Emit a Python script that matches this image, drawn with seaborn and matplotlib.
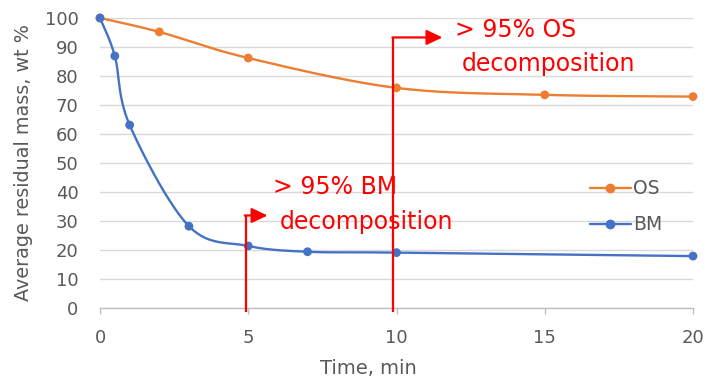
import numpy as np
import pandas as pd
import matplotlib
matplotlib.use("Agg")
import matplotlib.pyplot as plt
from matplotlib.lines import Line2D
import seaborn as sns

# ---- data ----
os_time = [0, 2, 5, 10, 15, 20]
os_mass = [100, 95.2, 86.2, 75.9, 73.5, 72.9]
bm_time = [0, 0.5, 1, 3, 5, 7, 10, 20]
bm_mass = [100, 86.9, 63.1, 28.2, 21.4, 19.4, 19.1, 17.9]
x_ticks = [0, 5, 10, 15, 20]
y_ticks = list(range(0, 101, 10))
series_names = ["OS", "BM"]
series_colors = ["#ED7D31", "#4472C4"]


def smooth(xs, ys, n=40):
    """Excel-style smoothed line (Catmull-Rom as cubic Bezier)."""
    p = np.column_stack([xs, ys]).astype(float)
    out = []
    for i in range(len(p) - 1):
        p0 = p[i - 1] if i > 0 else p[i]
        p1 = p[i]
        p2 = p[i + 1]
        p3 = p[i + 2] if i + 2 < len(p) else p[i + 1]
        c1 = p1 + (p2 - p0) / 6.0
        c2 = p2 - (p3 - p1) / 6.0
        t = np.linspace(0, 1, n)[:, None]
        seg = ((1 - t) ** 3) * p1 + 3 * ((1 - t) ** 2) * t * c1 + 3 * (1 - t) * t ** 2 * c2 + t ** 3 * p2
        out.append(seg if i == 0 else seg[1:])
    s = np.vstack(out)
    return s[:, 0], s[:, 1]


sns.set_theme(style="white")
plt.rcParams["font.family"] = ["DejaVu Sans"]

fig = plt.figure(figsize=(7.09, 3.82), dpi=100)
ax = fig.add_axes([100 / 709, 1 - 308 / 382, 593 / 709, 290 / 382])

for name, xs, ys, col in [("OS", os_time, os_mass, series_colors[0]),
                          ("BM", bm_time, bm_mass, series_colors[1])]:
    sx, sy = smooth(xs, ys)
    df_s = pd.DataFrame({"t": sx, "m": sy})
    sns.lineplot(data=df_s, x="t", y="m", sort=False, color=col, lw=1.7, ax=ax,
                 clip_on=False, zorder=3)
    df_p = pd.DataFrame({"t": xs, "m": ys})
    sns.scatterplot(data=df_p, x="t", y="m", color=col, s=40, edgecolor="none",
                    ax=ax, clip_on=False, zorder=4)

ax.set_xlim(0, 20)
ax.set_ylim(0, 100)
ax.set_xticks(x_ticks)
ax.set_yticks(y_ticks)
ax.yaxis.grid(True, color="#D9D9D9", lw=1)
ax.xaxis.grid(False)
for s in ["left", "right", "top"]:
    ax.spines[s].set_visible(False)
ax.spines["bottom"].set_color("#BFBFBF")
ax.spines["bottom"].set_linewidth(1)
ax.tick_params(axis="x", length=4, width=1, color="#BFBFBF", pad=11,
               labelsize=13, labelcolor="#595959", bottom=True)
ax.tick_params(axis="y", length=0, pad=15.5, labelsize=13, labelcolor="#595959")
ax.set_xlabel("Time, min", fontsize=14, color="#595959")
ax.set_ylabel("Average residual mass, wt %", fontsize=13.8, color="#595959")
ax.xaxis.set_label_coords(0.452, -0.175)
ax.yaxis.set_label_coords(-0.113, 0.503)

# ---- red annotations ----
red = "#FF0000"
for xv, ytop, xtip in [(4.91, 31.9, 5.65), (9.89, 93.3, 11.55)]:
    ax.plot([xv, xv], [-1.5, ytop], color=red, lw=1.6, clip_on=False, zorder=5,
            solid_capstyle="butt")
    ax.annotate("", xy=(xtip, ytop), xytext=(xv - 0.03, ytop),
                arrowprops=dict(arrowstyle="-|>,head_length=0.8,head_width=0.38",
                                color=red, lw=1.6, shrinkA=0, shrinkB=0),
                zorder=5, annotation_clip=False)

ax.text(5.84, 41.6, "> 95% BM", color=red, fontsize=17, ha="left", va="center")
ax.text(6.07, 29.6, "decomposition", color=red, fontsize=17, ha="left", va="center")
ax.text(11.97, 96.0, "> 95% OS", color=red, fontsize=17, ha="left", va="center")
ax.text(12.2, 84.0, "decomposition", color=red, fontsize=17, ha="left", va="center")

handles = [Line2D([0], [0], color=c, lw=1.7, marker="o", markersize=6)
           for c in series_colors]
leg = ax.legend(handles, series_names, loc="upper left",
                bbox_to_anchor=(0.814, 0.469), frameon=False, fontsize=13.5,
                handlelength=2.15, handletextpad=0.12, labelspacing=0.9,
                borderaxespad=0)
for t in leg.get_texts():
    t.set_color("#595959")

fig.savefig("out.png", dpi=100)
